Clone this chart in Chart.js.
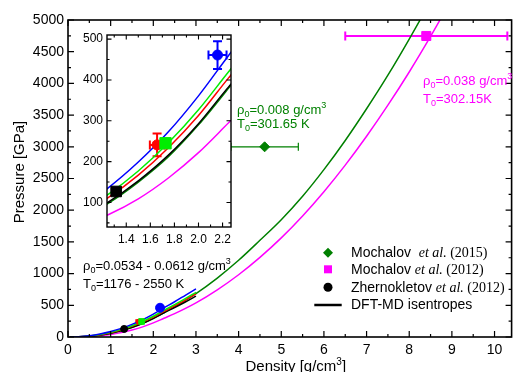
<!DOCTYPE html>
<html>
<head>
<meta charset="utf-8">
<script src="https://cdn.jsdelivr.net/npm/chart.js@4.4.0/dist/chart.umd.min.js"></script>
<style>
  body { margin: 0; background: #fff; }
  #wrap { position: relative; width: 519px; height: 372px; }
  #main { position: absolute; left: 0; top: 0; }
  #inset { position: absolute; left: 60px; top: 26px; }
</style>
</head>
<body>
<div id="wrap">
  <canvas id="main" width="519" height="372" style="width:519px;height:372px"></canvas>
  <canvas id="inset" width="180" height="220" style="width:180px;height:220px"></canvas>
</div>
<script>
// isentropes that stop at 3 g/cm3
const densityShort = [0.06, 0.25, 0.5, 0.75, 1.0, 1.25, 1.5, 1.75, 2.0, 2.25, 2.5, 2.75, 3.0];
const pressureBlue  = [0.3, 4.9, 20.5, 47, 86, 136, 199, 273, 361, 460, 556, 658, 760];
const pressureLime  = [0.2, 3.9, 17, 40, 75, 120, 177, 246, 327, 420, 510, 605, 705];
const pressureRed   = [0.2, 3.4, 15, 36.5, 68.5, 112, 167, 234, 313, 405, 492, 583, 680];
const pressureBlack = [0.1, 2.6, 12.6, 31.6, 60.7, 101, 153, 216, 293, 383, 465, 552, 645];

// long isentropes (Mochalov initial states)
const densityLong = [0.05, 0.5, 1.0, 1.25, 1.5, 1.75, 2.0, 2.25, 2.5, 3.0, 3.5, 4.0, 4.5, 5.0, 5.5, 6.0, 6.5, 7.0, 7.5, 8.0, 8.5, 9.0];
const pressureDarkGreen = [0, 11, 58, 98, 150, 212, 290, 380, 475, 685, 930, 1210, 1525, 1850, 2220, 2640, 3100, 3600, 4130, 4700, 5300, 5950];
const pressureMagenta   = [0, 7, 41, 70, 109, 160, 222, 295, 368, 538, 744, 982, 1256, 1563, 1909, 2292, 2711, 3166, 3656, 4180, 4741, 5334];

// experiments
const moch2015Density = [4.61], moch2015Pressure = [3000], moch2015DensityErr = [0.79];
const moch2012Density = [8.4],  moch2012Pressure = [4748], moch2012DensityErr = [1.9];
const blackDensity = [1.316], blackPressure = [127];
const redDensity = [1.656], redPressure = [241], redDensityErr = [0.06], redPressureErr = [28];
const limeDensity = [1.726], limePressure = [245];
const blueDensity = [2.158], bluePressure = [461], blueDensityErr = [0.075], bluePressureErr = [34];

// tick labels
const mainXTicks = [0, 1, 2, 3, 4, 5, 6, 7, 8, 9, 10];
const mainYTicks = [0, 500, 1000, 1500, 2000, 2500, 3000, 3500, 4000, 4500, 5000];
const insetXTicks = [1.4, 1.6, 1.8, 2.0, 2.2];
const insetYTicks = [100, 200, 300, 400, 500];

const sans = "'Liberation Sans', Arial, sans-serif";
const serif = "'Liberation Serif', 'Times New Roman', serif";
Chart.defaults.font.family = sans;
Chart.defaults.color = '#000';

const BLUE = '#0000ff', LIME = '#00ee00', RED = '#ff0000', MAG = '#ff00ff', DKGREEN = '#008000';

function pts(xs, ys) { return xs.map((x, i) => ({ x: x, y: ys[i] })); }

function lineSet(xs, ys, color) {
  return { data: pts(xs, ys), showLine: true, borderColor: color, borderWidth: 1.5,
           pointRadius: 0, cubicInterpolationMode: 'monotone', fill: false };
}
function markSet(xs, ys, color, style, r, extra) {
  return Object.assign({ data: pts(xs, ys), showLine: false, pointStyle: style, pointRadius: r,
    pointBackgroundColor: color, pointBorderColor: color, pointBorderWidth: 1, errColor: color }, extra || {});
}

// inward ticks on all four sides + frame
function frame(cfg) {
  return {
    id: 'frame',
    beforeDraw(chart) {
      if (!cfg.fill) return;
      const a = chart.chartArea, ctx = chart.ctx;
      ctx.save(); ctx.fillStyle = '#fff';
      ctx.fillRect(a.left, a.top, a.right - a.left, a.bottom - a.top);
      ctx.restore();
    },
    afterDraw(chart) {
      const ctx = chart.ctx, a = chart.chartArea, x = chart.scales.x, y = chart.scales.y;
      ctx.save();
      ctx.strokeStyle = '#000';
      ctx.lineWidth = cfg.tickWidth;
      ctx.beginPath();
      for (let k = Math.ceil(x.min / cfg.xStep - 1e-6); k * cfg.xStep <= x.max + 1e-9; k++) {
        const px = x.getPixelForValue(k * cfg.xStep);
        const len = k % cfg.xEvery === 0 ? cfg.major : cfg.minor;
        ctx.moveTo(px, a.bottom); ctx.lineTo(px, a.bottom - len);
        ctx.moveTo(px, a.top); ctx.lineTo(px, a.top + len);
      }
      for (let k = Math.ceil(y.min / cfg.yStep - 1e-6); k * cfg.yStep <= y.max + 1e-9; k++) {
        const py = y.getPixelForValue(k * cfg.yStep);
        const len = k % cfg.yEvery === 0 ? cfg.major : cfg.minor;
        ctx.moveTo(a.left, py); ctx.lineTo(a.left + len, py);
        ctx.moveTo(a.right, py); ctx.lineTo(a.right - len, py);
      }
      ctx.stroke();
      ctx.lineWidth = cfg.lineWidth;
      ctx.strokeRect(a.left, a.top, a.right - a.left, a.bottom - a.top);
      ctx.restore();
    }
  };
}

const errorBars = {
  id: 'errorBars',
  beforeDatasetsDraw(chart) {
    const ctx = chart.ctx, a = chart.chartArea, x = chart.scales.x, y = chart.scales.y;
    ctx.save();
    ctx.beginPath(); ctx.rect(a.left, a.top, a.right - a.left, a.bottom - a.top); ctx.clip();
    chart.data.datasets.forEach(ds => {
      if (!ds.errX && !ds.errY) return;
      ctx.strokeStyle = ds.errColor; ctx.lineWidth = ds.errWidth;
      const c = ds.errCap;
      ds.data.forEach((p, i) => {
        const px = x.getPixelForValue(p.x), py = y.getPixelForValue(p.y);
        ctx.beginPath();
        if (ds.errX) {
          const x0 = x.getPixelForValue(p.x - ds.errX[i]), x1 = x.getPixelForValue(p.x + ds.errX[i]);
          ctx.moveTo(x0, py); ctx.lineTo(x1, py);
          ctx.moveTo(x0, py - c); ctx.lineTo(x0, py + c);
          ctx.moveTo(x1, py - c); ctx.lineTo(x1, py + c);
        }
        if (ds.errY) {
          const y0 = y.getPixelForValue(p.y - ds.errY[i]), y1 = y.getPixelForValue(p.y + ds.errY[i]);
          ctx.moveTo(px, y0); ctx.lineTo(px, y1);
          ctx.moveTo(px - c, y0); ctx.lineTo(px + c, y0);
          ctx.moveTo(px - c, y1); ctx.lineTo(px + c, y1);
        }
        ctx.stroke();
      });
    });
    ctx.restore();
  }
};

function rich(ctx, x, y, parts, color) {
  ctx.fillStyle = color; ctx.textAlign = 'left'; ctx.textBaseline = 'alphabetic';
  parts.forEach(p => {
    ctx.font = p[1];
    ctx.fillText(p[0], x, y + (p[2] || 0));
    x += ctx.measureText(p[0]).width;
  });
  return x;
}
const T13 = '13px ' + sans, S9 = '9px ' + sans;
const T14 = '14px ' + sans, I14 = 'italic 14px ' + serif, R14 = '14px ' + serif;

const mainText = {
  id: 'mainText',
  afterDraw(chart) {
    const ctx = chart.ctx;
    ctx.save();
    // annotations
    rich(ctx, 237, 113.5, [['ρ', T13], ['0', S9, 3], ['=0.008 g/cm', T13], ['3', S9, -6]], DKGREEN);
    rich(ctx, 237, 128, [['T', T13], ['0', S9, 3], ['=301.65 K', T13]], DKGREEN);
    rich(ctx, 423, 85, [['ρ', T13], ['0', S9, 3], ['=0.038 g/cm', T13], ['3', S9, -6]], MAG);
    rich(ctx, 423, 102.5, [['T', T13], ['0', S9, 3], ['=302.15K', T13]], MAG);
    rich(ctx, 83, 269.5, [['ρ', T13], ['0', S9, 3], ['=0.0534 - 0.0612 g/cm', T13], ['3', S9, -6]], '#000');
    rich(ctx, 83, 287.5, [['T', T13], ['0', S9, 3], ['=1176 - 2550 K', T13]], '#000');

    // axis titles
    ctx.font = '15px ' + sans;
    const w = ctx.measureText('Density [g/cm').width + ctx.measureText(']').width;
    rich(ctx, 296 - (w + 6) / 2, 370.5, [['Density [g/cm', '15px ' + sans], ['3', '10px ' + sans, -6], [']', '15px ' + sans]], '#000');
    ctx.save();
    ctx.translate(24, 172); ctx.rotate(-Math.PI / 2);
    ctx.font = '15px ' + sans; ctx.textAlign = 'center'; ctx.fillStyle = '#000';
    ctx.fillText('Pressure [GPa]', 0, 0);
    ctx.restore();

    // legend
    const mx = 328;
    ctx.fillStyle = DKGREEN;
    ctx.beginPath(); ctx.moveTo(mx, 247.7); ctx.lineTo(mx + 5, 252.7); ctx.lineTo(mx, 257.7); ctx.lineTo(mx - 5, 252.7); ctx.closePath(); ctx.fill();
    ctx.fillStyle = MAG; ctx.fillRect(mx - 4, 265.3, 8, 8);
    ctx.fillStyle = '#000'; ctx.beginPath(); ctx.arc(mx, 287.3, 4.5, 0, Math.PI * 2); ctx.fill();
    ctx.strokeStyle = '#000'; ctx.lineWidth = 2.5;
    ctx.beginPath(); ctx.moveTo(314.3, 305); ctx.lineTo(341.7, 305); ctx.stroke();
    rich(ctx, 351, 257, [['Mochalov  ', T14], ['et al.', I14], [' (2015)', R14]], '#000');
    rich(ctx, 351, 274.3, [['Mochalov ', T14], ['et al.', I14], [' (2012)', R14]], '#000');
    rich(ctx, 351, 291.7, [['Zhernokletov ', T14], ['et al.', I14], [' (2012)', R14]], '#000');
    rich(ctx, 351, 309, [['DFT-MD isentropes', T14]], '#000');
    ctx.restore();
  }
};

function fixedTicks(values) {
  return s => { s.ticks = values.map(v => ({ value: v })); };
}

new Chart(document.getElementById('main'), {
  type: 'scatter',
  data: {
    datasets: [
      markSet(moch2012Density, moch2012Pressure, MAG, 'rect', 6.4, { errX: moch2012DensityErr, errWidth: 2, errCap: 4.5 }),
      markSet(moch2015Density, moch2015Pressure, DKGREEN, 'rectRot', 5, { errX: moch2015DensityErr, errWidth: 1.2, errCap: 4 }),
      markSet(blueDensity, bluePressure, BLUE, 'circle', 4.5, { errX: blueDensityErr, errY: bluePressureErr, errWidth: 1.5, errCap: 2.5 }),
      markSet(limeDensity, limePressure, LIME, 'rect', 4),
      markSet(redDensity, redPressure, RED, 'circle', 2.5, { errX: redDensityErr, errY: redPressureErr, errWidth: 1.5, errCap: 2.5 }),
      markSet(blackDensity, blackPressure, '#000', 'circle', 3.5),
      lineSet(densityShort, pressureBlue, BLUE),
      lineSet(densityShort, pressureLime, LIME),
      lineSet(densityShort, pressureRed, RED),
      lineSet(densityShort, pressureBlack, '#000'),
      lineSet(densityLong, pressureDarkGreen, DKGREEN),
      lineSet(densityLong, pressureMagenta, MAG)
    ]
  },
  options: {
    responsive: false, animation: false, events: [],
    layout: { padding: { top: 20, right: 1, left: 0, bottom: 0 } },
    plugins: { legend: { display: false }, tooltip: { enabled: false } },
    scales: {
      x: {
        type: 'linear', min: 0, max: 10.4,
        grid: { display: false, drawTicks: false }, border: { display: false },
        ticks: { font: { size: 14 }, color: '#000', padding: 5, maxRotation: 0, callback: v => String(v) },
        afterBuildTicks: fixedTicks(mainXTicks),
        afterFit: s => { s.height = 35; s.paddingLeft = 0; s.paddingRight = 0; }
      },
      y: {
        type: 'linear', min: 0, max: 5000,
        grid: { display: false, drawTicks: false }, border: { display: false },
        ticks: { font: { size: 14 }, color: '#000', padding: 4, callback: v => String(v) },
        afterBuildTicks: fixedTicks(mainYTicks),
        afterFit: s => { s.width = 68; s.paddingTop = 0; s.paddingBottom = 0; }
      }
    }
  },
  plugins: [frame({ xStep: 0.5, xEvery: 2, yStep: 250, yEvery: 2, major: 6, minor: 3, tickWidth: 1.2, lineWidth: 1.6 }), errorBars, mainText]
});

new Chart(document.getElementById('inset'), {
  type: 'scatter',
  data: {
    datasets: [
      markSet(blueDensity, bluePressure, BLUE, 'circle', 5, { errX: blueDensityErr, errY: bluePressureErr, errWidth: 2, errCap: 4.5 }),
      markSet(limeDensity, limePressure, LIME, 'rect', 8),
      markSet(redDensity, redPressure, RED, 'circle', 5, { errX: redDensityErr, errY: redPressureErr, errWidth: 2, errCap: 4.5 }),
      markSet(blackDensity, blackPressure, '#000', 'rect', 7.5),
      lineSet(densityShort, pressureBlue, BLUE),
      lineSet(densityShort, pressureLime, LIME),
      lineSet(densityShort, pressureRed, RED),
      lineSet(densityShort, pressureBlack, '#000'),
      lineSet(densityLong, pressureDarkGreen, DKGREEN),
      lineSet(densityLong, pressureMagenta, MAG)
    ]
  },
  options: {
    responsive: false, animation: false, events: [],
    layout: { padding: { top: 6, right: 9, left: 0, bottom: 0 } },
    plugins: { legend: { display: false }, tooltip: { enabled: false } },
    scales: {
      x: {
        type: 'linear', min: 1.24, max: 2.27,
        grid: { display: false, drawTicks: false }, border: { display: false },
        ticks: { font: { size: 12 }, color: '#000', padding: 5, maxRotation: 0, callback: v => v.toFixed(1) },
        afterBuildTicks: fixedTicks(insetXTicks),
        afterFit: s => { s.height = 19; s.paddingLeft = 0; s.paddingRight = 0; }
      },
      y: {
        type: 'linear', min: 40, max: 510,
        grid: { display: false, drawTicks: false }, border: { display: false },
        ticks: { font: { size: 12 }, color: '#000', padding: 4, callback: v => String(v) },
        afterBuildTicks: fixedTicks(insetYTicks),
        afterFit: s => { s.width = 47; s.paddingTop = 0; s.paddingBottom = 0; }
      }
    }
  },
  plugins: [frame({ fill: true, xStep: 0.1, xEvery: 2, yStep: 50, yEvery: 2, major: 4.5, minor: 2.5, tickWidth: 1.1, lineWidth: 1.4 }), errorBars]
});
</script>
</body>
</html>
